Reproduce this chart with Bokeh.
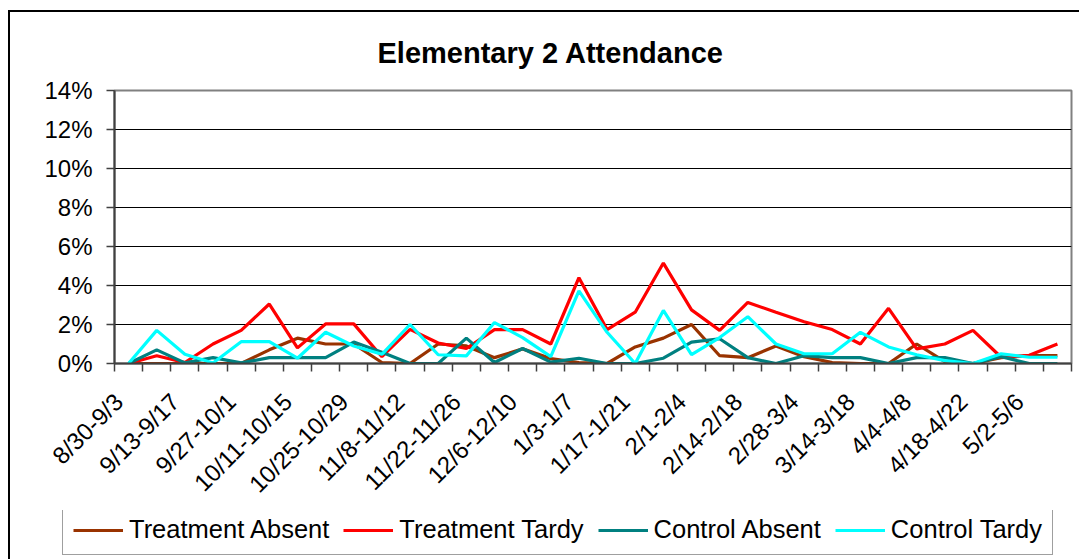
import math
from bokeh.plotting import figure
from bokeh.layouts import row, column
from bokeh.models import (Range1d, FixedTicker, PrintfTickFormatter, Legend, LegendItem, Spacer)
from bokeh.embed import file_html
from bokeh.resources import INLINE

weeks = ["8/30-9/3", "9/6-9/10", "9/13-9/17", "9/20-9/24", "9/27-10/1", "10/4-10/8",
         "10/11-10/15", "10/18-10/22", "10/25-10/29", "11/1-11/5", "11/8-11/12",
         "11/15-11/19", "11/22-11/26", "11/29-12/3", "12/6-12/10", "12/13-12/17",
         "1/3-1/7", "1/10-1/14", "1/17-1/21", "1/24-1/28", "2/1-2/4", "2/7-2/11",
         "2/14-2/18", "2/21-2/25", "2/28-3/4", "3/7-3/11", "3/14-3/18", "3/21-3/25",
         "4/4-4/8", "4/11-4/15", "4/18-4/22", "4/25-4/29", "5/2-5/6", "5/9-5/13"]

treatment_absent = [0, 0, 0, 0, 0, 0.7, 1.3, 1.0, 1.0, 0.05, 0, 1.0, 0.9, 0.3, 0.75, 0.25,
                    0.05, 0, 0.85, 1.3, 2.0, 0.4, 0.3, 0.9, 0.35, 0.05, 0, 0, 1.0, 0.1,
                    0, 0.3, 0.4, 0.4]
treatment_tardy = [0, 0.4, 0.05, 1.0, 1.7, 3.05, 0.8, 2.03, 2.03, 0.35, 1.75, 1.05, 0.77,
                   1.74, 1.74, 1.0, 4.4, 1.74, 2.63, 5.15, 2.75, 1.7, 3.13, 2.63, 2.14,
                   1.74, 1.0, 2.83, 0.75, 1.0, 1.7, 0.32, 0.42, 1.0]
control_absent = [0, 0.7, 0.03, 0.3, 0.03, 0.3, 0.3, 0.3, 1.1, 0.58, 0, 0, 1.3, 0.05, 0.77,
                  0.07, 0.27, 0, 0, 0.27, 1.1, 1.27, 0.3, 0, 0.4, 0.3, 0.3, 0, 0.3, 0.3,
                  0, 0.35, 0, 0]
control_tardy = [0, 1.7, 0.47, 0.03, 1.12, 1.12, 0.27, 1.6, 0.9, 0.47, 2.0, 0.45, 0.39,
                 2.1, 1.33, 0.35, 3.72, 1.6, 0, 2.72, 0.45, 1.33, 2.4, 1.0, 0.5, 0.5, 1.6,
                 0.85, 0.45, 0.15, 0, 0.5, 0.32, 0.32]

series_names = ["Treatment Absent", "Treatment Tardy", "Control Absent", "Control Tardy"]
series_colors = ["#993300", "#FF0000", "#008080", "#00FFFF"]
y_ticks = [0, 2, 4, 6, 8, 10, 12, 14]
all_series = [treatment_absent, treatment_tardy, control_absent, control_tardy]

FONT = "Liberation Sans"
LW = 3.2
x = list(range(len(weeks)))
label_shift = 0.35
label_pos = [i - label_shift for i in x[::2]]

p = figure(width=1069, height=498, x_range=Range1d(-0.5, len(weeks) - 0.5),
           y_range=Range1d(0, 14), output_backend="svg", toolbar_location=None,
           min_border_left=104, min_border_right=8, min_border_top=78,
           min_border_bottom=145)
p.background_fill_color = "white"
p.border_fill_color = "white"
p.outline_line_color = "#808080"
p.outline_line_width = 2

p.title.text = "Elementary 2 Attendance"
p.title.align = "left"
p.title.offset = 263
p.title.text_font = FONT
p.title.text_font_size = "29px"
p.title.text_font_style = "bold"
p.title.text_color = "black"
p.title.standoff = 43

for vals, col in zip(all_series, series_colors):
    p.line(x, vals, line_color=col, line_width=LW)

# x axis
xa = p.xaxis[0]
xa.ticker = FixedTicker(ticks=label_pos, minor_ticks=[i - 0.5 for i in range(len(weeks) + 1)])
xa.major_label_overrides = {pos: weeks[i] for pos, i in zip(label_pos, x[::2])}
xa.major_label_orientation = math.pi / 4
xa.major_label_text_font = FONT
xa.major_label_text_font_size = "24px"
xa.major_label_text_color = "black"
xa.major_label_standoff = 26
xa.major_tick_in = 0
xa.major_tick_out = 0
xa.minor_tick_in = 0
xa.minor_tick_out = 8
xa.minor_tick_line_color = "#404040"
xa.minor_tick_line_width = 1.5
xa.axis_line_color = "#404040"
xa.axis_line_width = 2

# y axis
ya = p.yaxis[0]
ya.ticker = FixedTicker(ticks=y_ticks)
ya.formatter = PrintfTickFormatter(format="%d%%")
ya.major_label_text_font = FONT
ya.major_label_text_font_size = "24px"
ya.major_label_text_color = "black"
ya.major_label_standoff = 14
ya.major_tick_in = 0
ya.major_tick_out = 8
ya.major_tick_line_color = "#404040"
ya.major_tick_line_width = 1.5
ya.minor_tick_line_color = None
ya.axis_line_color = "#404040"
ya.axis_line_width = 2

p.xgrid.grid_line_color = None
p.ygrid.ticker = FixedTicker(ticks=y_ticks[1:-1])
p.ygrid.grid_line_color = "black"
p.ygrid.grid_line_width = 1

# legend strip below the chart (its own root, so its frame spans the full width)
p2 = figure(width=1069, height=49, x_range=Range1d(-0.5, len(weeks) - 0.5),
            y_range=Range1d(100, 101), output_backend="svg", toolbar_location=None,
            x_axis_location=None, y_axis_location=None,
            min_border_left=0, min_border_right=0, min_border_top=0, min_border_bottom=0)
p2.outline_line_color = None
p2.xgrid.grid_line_color = None
p2.ygrid.grid_line_color = None
p2.background_fill_color = "white"
p2.border_fill_color = "white"
keys = [p2.line(x, vals, line_color=c, line_width=LW) for vals, c in zip(all_series, series_colors)]

legend = Legend(items=[LegendItem(label=n, renderers=[r]) for n, r in zip(series_names, keys)],
                orientation="horizontal", location=(52, 4), margin=0)
legend.label_text_font = FONT
legend.label_text_font_size = "25.5px"
legend.label_text_color = "black"
legend.glyph_width = 50
legend.glyph_height = 26
legend.label_height = 26
legend.label_standoff = 6
legend.spacing = 14
legend.padding = 10
legend.border_line_color = "#404040"
legend.border_line_width = 1
legend.background_fill_color = "white"
legend.background_fill_alpha = 1
p2.add_layout(legend)

# outer chart border: black strip at the left (x 8-10) and top (y 10-12)
left_edge = {"background": "linear-gradient(to right, #ffffff 8px, #000000 8px)"}
top_edge = {"background": "linear-gradient(to bottom, #ffffff 10px, #000000 10px)"}
root1 = row(Spacer(width=10, height=510, styles={"background": "linear-gradient(to bottom, #ffffff 10px, transparent 10px), linear-gradient(to right, #ffffff 8px, #000000 8px)"}),
            column(Spacer(width=1069, height=12, styles=top_edge), p))
root2 = row(Spacer(width=10, height=49, styles=left_edge), p2)

open("out.html", "w").write(file_html([root1, root2], INLINE))
